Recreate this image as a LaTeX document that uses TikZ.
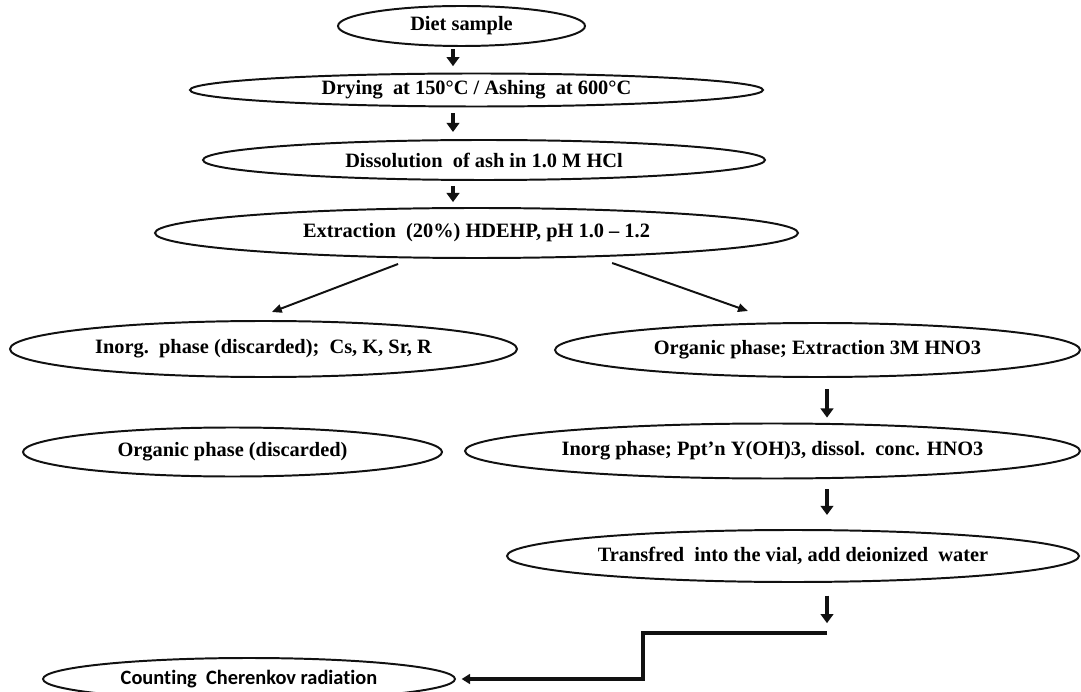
\documentclass[tikz,border=0pt]{standalone}
\usepackage{fontspec}
\setmainfont{Liberation Serif}
\newfontfamily\countfont[Ligatures=NoCommon]{Carlito}
\usepackage{tikz}
\usetikzlibrary{arrows.meta, positioning, shapes.geometric, calc}
\definecolor{flowline}{HTML}{111111}

\begin{document}
\begin{tikzpicture}[
  stage/.style={ellipse,draw=flowline,line width=1.4pt,inner sep=0pt,
    font=\fontsize{14.5pt}{17pt}\selectfont\bfseries},
  downarrow/.style={draw=flowline,line width=2.8pt,-{Triangle[width=9pt,length=6.5pt]}},
  splitarrow/.style={draw=flowline,line width=1.4pt,-{Triangle[width=6pt,length=7pt]}},
  steparrow/.style={draw=flowline,line width=2.4pt,-{Triangle[width=7pt,length=6pt]}}]
  \useasboundingbox (0,0) rectangle (27.025,-17.3);
  % main column
  \node[stage,minimum width=6.175cm,minimum height=1.0cm] (diet) at (11.5375,-0.65) {Diet sample};
  \node[stage,minimum width=14.325cm,minimum height=0.825cm] (dry) at (11.9125,-2.25) {Drying\ \ at 150°C / Ashing\ \ at 600°C};
  \node[stage,minimum width=14.05cm,minimum height=1.0cm] (diss) at (12.1,-4.0) {Dissolution\ \ of ash in 1.0 M HCl};
  \node[stage,minimum width=16.075cm,minimum height=1.25cm] (extr) at (11.9125,-5.825) {Extraction\ \ (20\%) HDEHP, pH 1.0 – 1.2};
  % branches
  \node[stage,minimum width=12.675cm,minimum height=1.4cm] (inorg) at (6.5875,-8.725) {Inorg.\ \ phase (discarded);\ \ Cs, K, Sr, R};
  \node[stage,minimum width=13.125cm,minimum height=1.35cm] (org) at (20.4375,-8.75) {Organic phase; Extraction 3M HNO3};
  \node[stage,minimum width=10.475cm,minimum height=1.225cm] (orgdis) at (5.8125,-11.3) {Organic phase (discarded)};
  \node[stage,minimum width=15.375cm,minimum height=1.375cm] (ppt) at (19.3125,-11.275) {Inorg phase; Ppt’n Y(OH)3, dissol.\ \ conc. HNO3};
  \node[stage,minimum width=14.3cm,minimum height=1.3cm] (vial) at (19.825,-13.9) {Transfred\ \ into the vial, add deionized\ \ water};
  \node[stage,minimum width=10.3cm,minimum height=1.05cm,font=\fontsize{14.5pt}{17pt}\countfont\bfseries] (count) at (6.225,-16.975) {Counting\ \ Cherenkov radiation};
  \coordinate (laxis) at (11.325,0);
  \coordinate (raxis) at (20.675,0);
  \coordinate (stepA) at (20.675,-15.825);
  \coordinate (stepB) at (16.075,-15.825);
  \draw[downarrow,shorten <=1.5pt,shorten >=4.5pt] (diet.south -| laxis) -- (dry.north -| laxis);
  \draw[downarrow,shorten <=4pt,shorten >=5pt] (dry.south -| laxis) -- (diss.north -| laxis);
  \draw[downarrow,shorten <=3.5pt,shorten >=3.5pt] (diss.south -| laxis) -- (extr.north -| laxis);
  \draw[splitarrow] ([xshift=-1.96cm,yshift=-0.125cm]extr.south) -- ([xshift=0.21cm,yshift=0.2cm]inorg.north);
  \draw[splitarrow] ([xshift=3.39cm,yshift=-0.1cm]extr.south) -- ([xshift=-1.74cm,yshift=0.275cm]org.north);
  \draw[downarrow,shorten <=8pt,shorten >=3.5pt] (org.south -| raxis) -- (ppt.north -| raxis);
  \draw[downarrow,shorten <=7pt,shorten >=10pt] (ppt.south -| raxis) -- (vial.north -| raxis);
  \draw[downarrow,shorten <=9pt,shorten >=7pt] (vial.south -| raxis) -- (stepA);
  \draw[steparrow,shorten >=4pt] (stepA) -- (stepB) |- (count.east);
\end{tikzpicture}
\end{document}
